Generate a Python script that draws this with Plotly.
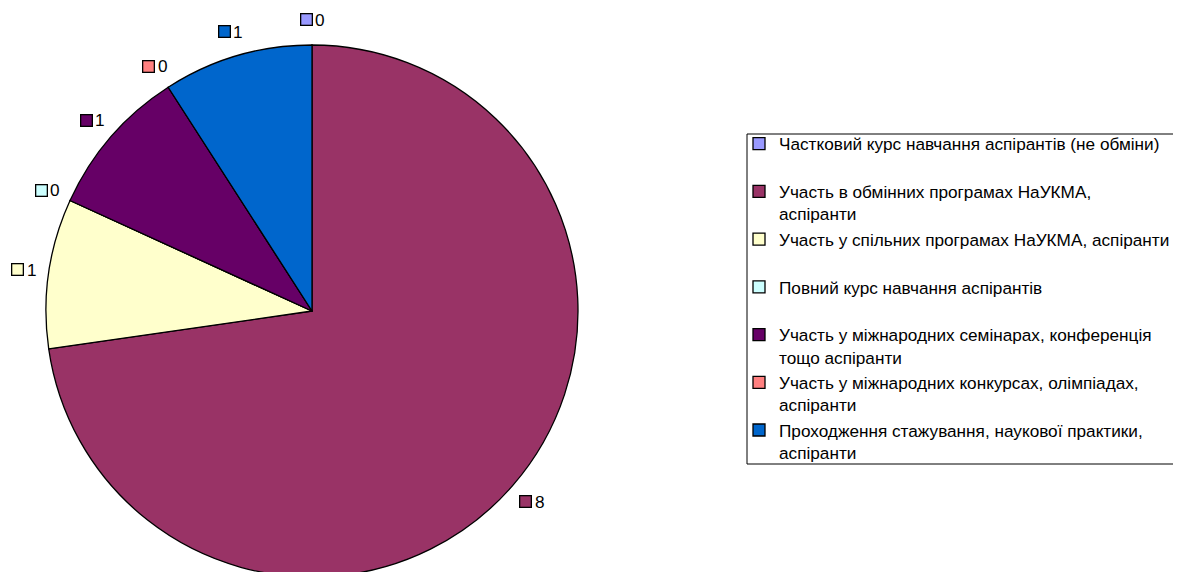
import math
import plotly.graph_objects as go

labels = [
    "Частковий курс навчання аспірантів (не обміни)",
    "Участь в обмінних програмах НаУКМА,<br>аспіранти",
    "Участь у спільних програмах НаУКМА, аспіранти",
    "Повний курс навчання аспірантів",
    "Участь у міжнародних семінарах, конференція<br>тощо аспіранти",
    "Участь у міжнародних конкурсах, олімпіадах,<br>аспіранти",
    "Проходження стажування, наукової практики,<br>аспіранти",
]
values = [0, 8, 1, 0, 1, 0, 1]
colors = ["#9999FF", "#993366", "#FFFFCC", "#CCFFFF", "#660066", "#FF8080", "#0066CC"]

# page body has an 8px margin; screen coords are converted by subtracting OFF
OFF = 8
W, H = 1181 - OFF, 577 - OFF
CX, CY, R = 312 - OFF, 311 - OFF, 266
FONT = "Arial, Liberation Sans, sans-serif"
FS = 17.2


def fx(sx):
    return (sx - OFF) / W


def fy(sy):
    return 1 - (sy - OFF) / H


legend_labels = [l if "<br>" in l else l + "<br> " for l in labels]

fig = go.Figure(go.Pie(
    labels=legend_labels,
    values=values,
    marker=dict(colors=colors, line=dict(color="#000000", width=1.3)),
    sort=False,
    direction="clockwise",
    rotation=0,
    textinfo="none",
    hoverinfo="label+value",
    domain=dict(x=[(CX - R) / W, (CX + R) / W], y=[0, (H - (CY - R)) / H]),
))

total = sum(values)
cum = 0
annotations = []
RL = R + 25
for v, c in zip(values, colors):
    theta = math.radians(360.0 * (cum + v / 2.0) / total)
    cum += v
    px = CX + RL * math.sin(theta)
    py = CY - RL * math.cos(theta)
    xp = px / W
    yp = 1 - py / H
    annotations.append(dict(
        x=xp, y=yp, xref="paper", yref="paper", text=" ", showarrow=False,
        width=10, height=10, bgcolor=c, bordercolor="#000000", borderwidth=1.3,
        borderpad=0, font=dict(size=6), xanchor="center", yanchor="middle",
        xshift=-6,
    ))
    annotations.append(dict(
        x=xp, y=yp, xref="paper", yref="paper", text=str(v), showarrow=False,
        font=dict(size=FS, color="#000000", family=FONT),
        xanchor="left", yanchor="middle", xshift=1,
    ))

fig.update_layout(
    width=W, height=H,
    margin=dict(l=0, r=0, t=0, b=0),
    paper_bgcolor="white",
    plot_bgcolor="white",
    font=dict(family=FONT, size=FS, color="#000000"),
    showlegend=True,
    legend=dict(
        x=fx(739), y=fy(126), xanchor="left", yanchor="top",
        borderwidth=0, bgcolor="rgba(0,0,0,0)",
        font=dict(size=FS, family=FONT, color="#000000"),
        valign="top", traceorder="normal", itemwidth=30,
    ),
    shapes=[dict(
        type="rect", xref="paper", yref="paper",
        x0=fx(747), x1=fx(1179), y0=fy(464), y1=fy(134),
        line=dict(color="#000000", width=1), fillcolor="rgba(0,0,0,0)",
    )],
    annotations=annotations,
)

fig.write_html("out.html")
